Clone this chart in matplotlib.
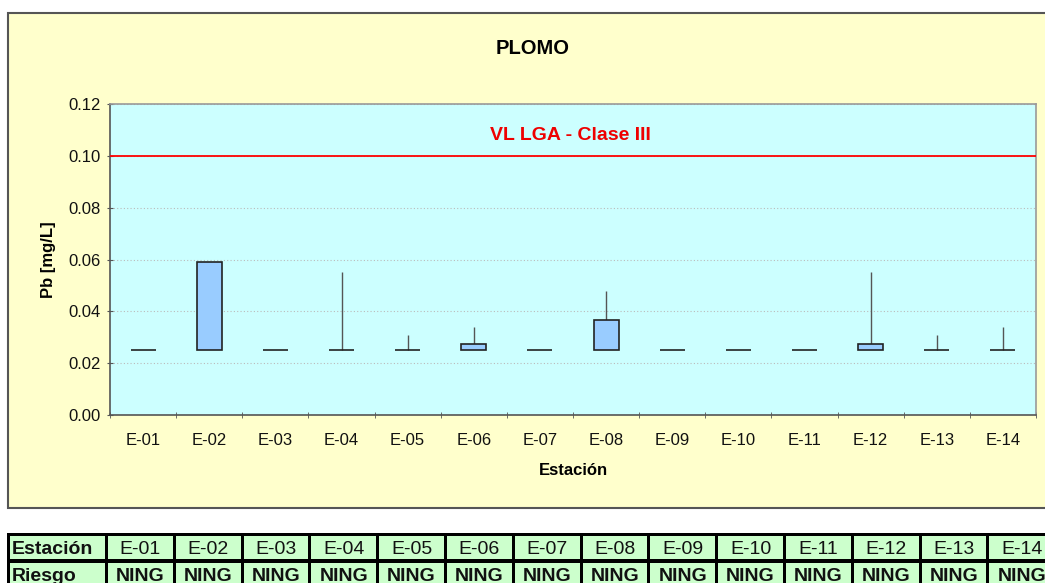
import matplotlib
matplotlib.use("Agg")
import matplotlib.pyplot as plt
from matplotlib.patches import Rectangle
import numpy as np

plt.rcParams['font.family'] = ['Liberation Sans', 'DejaVu Sans']

stations = ["E-01", "E-02", "E-03", "E-04", "E-05", "E-06", "E-07",
            "E-08", "E-09", "E-10", "E-11", "E-12", "E-13", "E-14"]
box_low = [0.025] * 14
box_high = [0.025, 0.059, 0.025, 0.025, 0.025, 0.0275, 0.025,
            0.0365, 0.025, 0.025, 0.025, 0.0275, 0.025, 0.025]
whisker_high = [0.025, 0.059, 0.025, 0.055, 0.031, 0.034, 0.025,
                0.048, 0.025, 0.025, 0.025, 0.055, 0.031, 0.034]
limit_value = 0.10
limit_label = "VL LGA - Clase III"
risk = ["NING"] * 14
yticks = [0.00, 0.02, 0.04, 0.06, 0.08, 0.10, 0.12]

W, H = 1045, 583
fig = plt.figure(figsize=(W / 100, H / 100), dpi=100)
fig.patch.set_facecolor("white")

# outer chart frame (background axes)
bg = fig.add_axes([0, 0, 1, 1], zorder=-5)
bg.set_xlim(0, W)
bg.set_ylim(H, 0)
bg.axis("off")
bg.add_patch(Rectangle((8, 13), 1060 - 8, 508 - 13, facecolor="#FFFFCC",
                       edgecolor="#555555", linewidth=1.5))

ax = fig.add_axes([110 / W, 1 - 415 / H, (1036 - 110) / W, (415 - 104) / H])
ax.set_facecolor("#CCFFFF")
x = np.arange(1, len(stations) + 1)

ax.set_xlim(0.5, len(stations) + 0.5)
ax.set_ylim(0, 0.12)
ax.set_yticks(yticks)
ax.set_yticklabels([f"{v:.2f}" for v in yticks])
ax.yaxis.grid(True, linestyle=(0, (1, 2)), color="#BBBBBB", linewidth=0.8)
ax.set_axisbelow(True)

# whiskers
ax.vlines(x, box_high, whisker_high, color="#555555", linewidth=1.0, zorder=2)
# boxes
heights = np.array(box_high) - np.array(box_low)
ax.bar(x, heights, bottom=box_low, width=0.38, facecolor="#99CCFF",
       edgecolor="#222222", linewidth=1.2, zorder=3)

# limit line
ax.axhline(limit_value, color="#FF0000", linewidth=1.3, zorder=4)
ax.text(7.46, 0.1077, limit_label, color="#EE0000", fontsize=14,
        fontweight="bold", ha="center", va="center")

ax.set_xticks(x)
ax.set_xticklabels(stations)
ax.set_xticks(np.arange(0.5, len(stations) + 1, 1), minor=True)
ax.tick_params(axis="x", which="major", length=0, labelsize=12, pad=13,
               colors="#111111")
ax.tick_params(axis="x", which="minor", length=5, direction="inout",
               color="#555555")
ax.tick_params(axis="y", length=5, direction="inout", labelsize=12,
               color="#555555", labelcolor="#111111", pad=4)
for s in ["top", "right"]:
    ax.spines[s].set_color("#999999")
    ax.spines[s].set_linewidth(1.2)
for s in ["left", "bottom"]:
    ax.spines[s].set_color("#555555")
    ax.spines[s].set_linewidth(1.2)

ax.set_xlabel("Estación", fontsize=12, fontweight="bold", labelpad=11)
ax.set_ylabel("Pb [mg/L]", fontsize=12, fontweight="bold", labelpad=9)
fig.text(533 / W, 1 - 48 / H, "PLOMO", fontsize=14.5, fontweight="bold",
         ha="center", va="center")

# bottom table
tax = fig.add_axes([0, 0, 1, (583 - 530) / H])
tax.set_xlim(0, W)
tax.set_ylim(583, 530)
tax.axis("off")
tbl_left, tbl_top = 7, 533
first_w, col_w = 99, 67.8
row_tops = [533, 560]
row_h = 27
tax.add_patch(Rectangle((tbl_left, tbl_top), 1100, 60, facecolor="black",
                        edgecolor="none"))
rows = [("Estación", stations, "normal"), ("Riesgo", risk, "bold")]
for r, (head, vals, wt) in enumerate(rows):
    top = row_tops[r]
    tax.add_patch(Rectangle((tbl_left + 3, top + 3), first_w - 4, row_h - 4,
                            facecolor="#CCFFCC", edgecolor="none"))
    tax.text(tbl_left + 5, top + 5 + (row_h - 4) / 2, head, fontsize=14,
             fontweight="bold", ha="left", va="center", color="#111111")
    for i, v in enumerate(vals):
        cx0 = tbl_left + first_w + i * col_w
        tax.add_patch(Rectangle((cx0 + 2, top + 3), col_w - 3, row_h - 4,
                                facecolor="#CCFFCC", edgecolor="none"))
        tax.text(cx0 + 2 + (col_w - 3) / 2, top + 5 + (row_h - 4) / 2, v,
                 fontsize=14, fontweight=wt, ha="center", va="center",
                 color="#111111")

fig.savefig("out.png", dpi=100)
